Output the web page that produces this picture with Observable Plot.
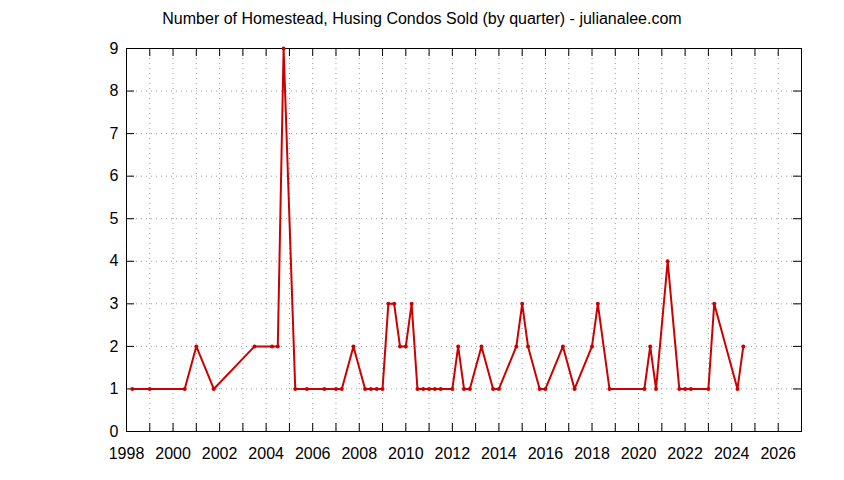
<!DOCTYPE html>
<html>
<head>
<meta charset="utf-8">
<script src="https://cdn.jsdelivr.net/npm/d3@7"></script>
<script src="https://cdn.jsdelivr.net/npm/@observablehq/plot@0.6"></script>
<style>
  html, body { margin: 0; padding: 0; background: #fff; }
  #title { width: 844px; height: 36px; line-height: 38px; text-align: center;
           font-family: "Liberation Sans", Arial, sans-serif; font-size: 16px; color: #000; }
</style>
</head>
<body>
<div id="title">Number of Homestead, Husing Condos Sold (by quarter) - julianalee.com</div>
<div id="chart"></div>
<script>
const quarters = [1998.25, 1999.0, 2000.5, 2001.0, 2001.75, 2003.5, 2004.25, 2004.5, 2004.75, 2005.25,
  2005.75, 2006.5, 2007.0, 2007.25, 2007.75, 2008.25, 2008.5, 2008.75, 2009.0, 2009.25,
  2009.5, 2009.75, 2010.0, 2010.25, 2010.5, 2010.75, 2011.0, 2011.25, 2011.5, 2012.0,
  2012.25, 2012.5, 2012.75, 2013.25, 2013.75, 2014.0, 2014.75, 2015.0, 2015.25, 2015.75,
  2016.0, 2016.75, 2017.25, 2018.0, 2018.25, 2018.75, 2020.25, 2020.5, 2020.75, 2021.25,
  2021.75, 2022.0, 2022.25, 2023.0, 2023.25, 2024.25, 2024.5];
const sold = [1, 1, 1, 2, 1, 2, 2, 2, 9, 1,
  1, 1, 1, 1, 2, 1, 1, 1, 1, 3,
  3, 2, 2, 3, 1, 1, 1, 1, 1, 1,
  2, 1, 1, 2, 1, 1, 2, 3, 2, 1,
  1, 2, 1, 2, 3, 1, 1, 2, 1, 4,
  1, 1, 1, 1, 3, 1, 2];
const yearTicks = d3.range(1998, 2028);
const labelYears = d3.range(1998, 2027, 2);
const yTicks = d3.range(0, 10);

const data = quarters.map((q, i) => ({q, n: sold[i]}));

const W = 844, H = 444;
const mL = 126, mR = 43, mT = 12, mB = 49;
const plotW = W - mL - mR, plotH = H - mT - mB;
const tick = 8;
const font = "'Liberation Sans', Arial, sans-serif";

const chart = Plot.plot({
  width: W, height: H,
  marginLeft: mL, marginRight: mR, marginTop: mT, marginBottom: mB,
  style: {fontFamily: font, fontSize: "16px", background: "#fff", color: "#000"},
  x: {domain: [1998, 2027]},
  y: {domain: [0, 9]},
  marks: [
    Plot.gridX(yearTicks, {stroke: "#999", strokeOpacity: 1, strokeDasharray: "1,4"}),
    Plot.gridY(yTicks, {stroke: "#999", strokeOpacity: 1, strokeDasharray: "1,4"}),
    Plot.tickX(yearTicks, {x: d => d, stroke: "#000", insetTop: plotH - tick}),
    Plot.tickX(yearTicks, {x: d => d, stroke: "#000", insetBottom: plotH - tick}),
    Plot.tickY(yTicks, {y: d => d, stroke: "#000", insetRight: plotW - tick}),
    Plot.tickY(yTicks, {y: d => d, stroke: "#000", insetLeft: plotW - tick}),
    Plot.axisX(labelYears, {tickSize: 0, tickPadding: 16, label: null, tickFormat: d => String(d), fontSize: 16}),
    Plot.axisY(yTicks, {tickSize: 0, tickPadding: 8, label: null, tickFormat: d => String(d), fontSize: 16}),
    Plot.frame({stroke: "#000", strokeWidth: 1}),
    Plot.line(data, {x: "q", y: "n", stroke: "#cc0000", strokeWidth: 2}),
    Plot.dot(data, {x: "q", y: "n", r: 2, fill: "#cc0000", stroke: null})
  ]
});
document.getElementById("chart").appendChild(chart);
</script>
</body>
</html>
